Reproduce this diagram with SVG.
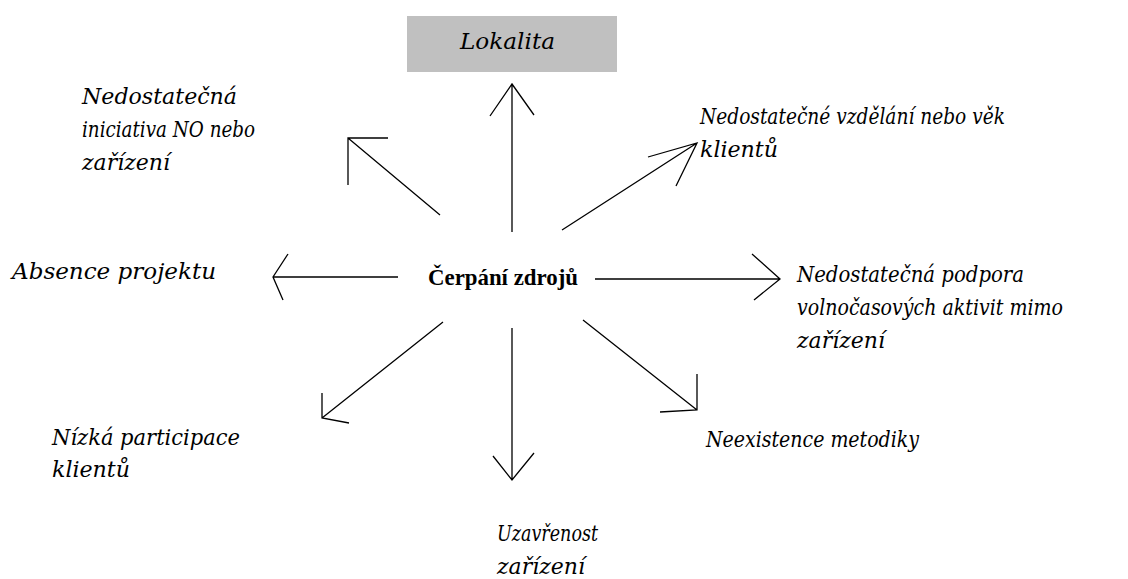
<svg xmlns="http://www.w3.org/2000/svg" width="1128" height="579" viewBox="0 0 1128 579">
<style>
.t{font-family:"DejaVu Serif","Liberation Serif",serif;font-style:italic;font-size:23px;fill:#000}
.c{font-family:"Liberation Serif","Times New Roman",serif;font-weight:bold;font-size:24px;fill:#000}
.ln{stroke:#000;stroke-width:1.3;fill:none}
</style>
<rect width="1128" height="579" fill="#fff"/>
<g id="lokalita">
<rect x="407" y="16" width="210" height="56" fill="#c0c0c0"/>
<text class="t" x="460" y="49" textLength="95" lengthAdjust="spacingAndGlyphs">Lokalita</text>
</g>
<g id="center">
<text class="c" x="428" y="285" textLength="150" lengthAdjust="spacingAndGlyphs">Čerpání zdrojů</text>
</g>
<g id="iniciativa">
<text class="t" x="82" y="104" textLength="155" lengthAdjust="spacingAndGlyphs">Nedostatečná</text>
<text class="t" x="82" y="137" textLength="173" lengthAdjust="spacingAndGlyphs">iniciativa NO nebo</text>
<text class="t" x="82" y="170" textLength="88" lengthAdjust="spacingAndGlyphs">zařízení</text>
</g>
<g id="vzdelani">
<text class="t" x="700" y="124" textLength="305" lengthAdjust="spacingAndGlyphs">Nedostatečné vzdělání nebo věk</text>
<text class="t" x="700" y="157" textLength="78" lengthAdjust="spacingAndGlyphs">klientů</text>
</g>
<g id="absence">
<text class="t" x="12" y="279" textLength="204" lengthAdjust="spacingAndGlyphs">Absence projektu</text>
</g>
<g id="podpora">
<text class="t" x="797" y="282" textLength="227" lengthAdjust="spacingAndGlyphs">Nedostatečná podpora</text>
<text class="t" x="797" y="315" textLength="266" lengthAdjust="spacingAndGlyphs">volnočasových aktivit mimo</text>
<text class="t" x="797" y="348" textLength="88" lengthAdjust="spacingAndGlyphs">zařízení</text>
</g>
<g id="participace">
<text class="t" x="52" y="445" textLength="188" lengthAdjust="spacingAndGlyphs">Nízká participace</text>
<text class="t" x="52" y="477" textLength="78" lengthAdjust="spacingAndGlyphs">klientů</text>
</g>
<g id="metodika">
<text class="t" x="706" y="447" textLength="213" lengthAdjust="spacingAndGlyphs">Neexistence metodiky</text>
</g>
<g id="uzavrenost">
<text class="t" x="497" y="541" textLength="101" lengthAdjust="spacingAndGlyphs">Uzavřenost</text>
<text class="t" x="497" y="574" textLength="88" lengthAdjust="spacingAndGlyphs">zařízení</text>
</g>
<g id="connectors" class="ln">
<path d="M512 232 L512 84 M490 116 L512 84 L534 115"/>
<path d="M440 215 L348 138 M388 138 L348 138 L348 185"/>
<path d="M562 230 L697 143 M648 157 L697 143 L676 186"/>
<path d="M398 277 L273 277 M288 254 L273 277 L283 300"/>
<path d="M595 279 L780 279 M752 254 L780 279 L754 300"/>
<path d="M443 322 L322 418 M322 393 L322 418 L349 423"/>
<path d="M512 328 L512 480 M493 456 L512 480 L534 453"/>
<path d="M583 320 L697 410 M697 374 L697 410 L660 412"/>
</g>
</svg>
